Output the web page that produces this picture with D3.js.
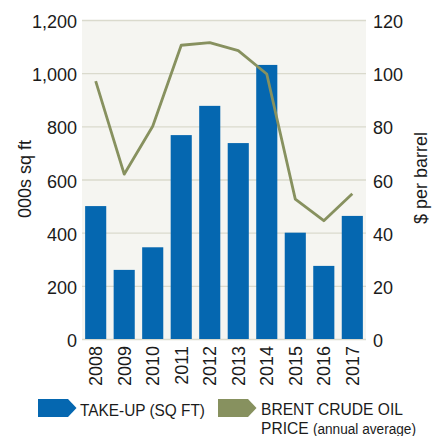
<!DOCTYPE html>
<html>
<head>
<meta charset="utf-8">
<script src="https://cdn.jsdelivr.net/npm/d3@7"></script>
<style>
  body { margin: 0; background: #fff; }
  text { font-family: "Liberation Sans", Arial, sans-serif; fill: #1b1b1b; }
</style>
</head>
<body>
<div id="chart"></div>
<script>
// values
let years = ["2008", "2009", "2010", "2011", "2012", "2013", "2014", "2015", "2016", "2017"];
let takeUp = [500, 260, 345, 767, 877, 737, 1031, 400, 275, 463];      // 000s sq ft
let brent = [97, 62, 80, 110.5, 111.5, 108.5, 99.7, 52.6, 44.5, 54.6]; // $ per barrel
let leftTicks = [0, 200, 400, 600, 800, 1000, 1200];
let rightTicks = [0, 20, 40, 60, 80, 100, 120];
let seriesNames = ["TAKE-UP (SQ FT)", "BRENT CRUDE OIL"];

var blue = "#0567b0", olive = "#87915f";

var margin = {top: 20, right: 74, bottom: 97, left: 82},
    width = 440 - margin.left - margin.right,
    height = 436 - margin.top - margin.bottom;

var svg = d3.select("#chart")
  .append("svg")
  .attr("width", 440)
  .attr("height", 436);

var g = svg.append("g")
  .attr("transform", "translate(" + margin.left + "," + margin.top + ")");

// plot background
g.append("rect")
  .attr("width", width)
  .attr("height", height)
  .attr("fill", "#f5f5f1");

var x = d3.scaleBand()
  .domain(years)
  .range([0, width])
  .paddingInner(0.26)
  .paddingOuter(0.11);

var y = d3.scaleLinear().domain([0, 1200]).range([height, 0]);
var y2 = d3.scaleLinear().domain([0, 120]).range([height, 0]);

// gridlines
var grid = g.append("g")
  .call(d3.axisLeft(y).tickValues(leftTicks).tickSize(-width).tickFormat(""));
grid.select(".domain").remove();
grid.selectAll("line").attr("stroke", "#dadacd").attr("stroke-width", 1.3);

// left axis
var yAxis = g.append("g")
  .call(d3.axisLeft(y).tickValues(leftTicks).tickSize(0).tickPadding(5).tickFormat(d3.format(",")));
yAxis.select(".domain").remove();
yAxis.selectAll("text")
  .attr("font-size", 18)
  .attr("dy", "0.42em")
  .style("font-family", "Liberation Sans, Arial, sans-serif")
  .attr("fill", "#1b1b1b");

// right axis
var yAxis2 = g.append("g")
  .attr("transform", "translate(" + width + ",0)")
  .call(d3.axisRight(y2).tickValues(rightTicks).tickSize(0).tickPadding(7));
yAxis2.select(".domain").remove();
yAxis2.selectAll("text")
  .attr("font-size", 18)
  .attr("dy", "0.42em")
  .style("font-family", "Liberation Sans, Arial, sans-serif")
  .attr("fill", "#1b1b1b");

// bars
g.append("g")
  .selectAll("rect")
  .data(takeUp)
  .enter()
  .append("rect")
    .attr("x", function (d, i) { return x(years[i]); })
    .attr("y", function (d) { return y(d); })
    .attr("width", x.bandwidth())
    .attr("height", function (d) { return height - y(d); })
    .attr("fill", blue);

// oil price line
var line = d3.line()
  .x(function (d, i) { return x(years[i]) + x.bandwidth() / 2; })
  .y(function (d) { return y2(d); });

g.append("path")
  .datum(brent)
  .attr("d", line)
  .attr("fill", "none")
  .attr("stroke", olive)
  .attr("stroke-width", 2.8)
  .attr("stroke-linejoin", "round");

// year labels
var xAxis = g.append("g")
  .attr("transform", "translate(0," + height + ")")
  .call(d3.axisBottom(x).tickSize(0).tickPadding(0));
xAxis.select(".domain").remove();
xAxis.selectAll("text")
  .attr("font-size", 18)
  .style("font-family", "Liberation Sans, Arial, sans-serif")
  .attr("fill", "#1b1b1b")
  .attr("text-anchor", "end")
  .attr("transform", "rotate(-90)")
  .attr("x", -7)
  .attr("y", 0)
  .attr("dy", "0.36em");

// axis titles
svg.append("text")
  .attr("transform", "translate(25,179) rotate(-90)")
  .attr("text-anchor", "middle")
  .attr("dy", "0.35em")
  .attr("font-size", 18)
  .text("000s sq ft");

svg.append("text")
  .attr("transform", "translate(421,178) rotate(-90)")
  .attr("text-anchor", "middle")
  .attr("dy", "0.35em")
  .attr("font-size", 18)
  .text("$ per barrel");

// legend
function tag(px, color) {
  svg.append("path")
    .attr("transform", "translate(" + px + ",399)")
    .attr("d", "M0,0H30L38.5,9L30,18H0Z")
    .attr("fill", color);
}
tag(38, blue);
tag(218, olive);

svg.append("text")
  .attr("x", 80).attr("y", 415.5)
  .attr("font-size", 16.5)
  .attr("textLength", 125)
  .attr("lengthAdjust", "spacingAndGlyphs")
  .text(seriesNames[0]);

svg.append("text")
  .attr("x", 261).attr("y", 415)
  .attr("font-size", 16)
  .attr("textLength", 142)
  .attr("lengthAdjust", "spacingAndGlyphs")
  .text(seriesNames[1]);

var l2 = svg.append("text")
  .attr("x", 261).attr("y", 433.5)
  .attr("font-size", 16)
  .attr("textLength", 155)
  .attr("lengthAdjust", "spacingAndGlyphs");
l2.append("tspan").text("PRICE ");
l2.append("tspan").attr("font-size", 14).text("(annual average)");
</script>
</body>
</html>
